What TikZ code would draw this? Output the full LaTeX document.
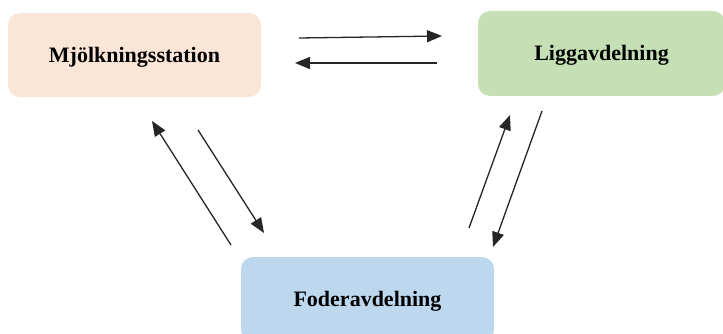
\documentclass[tikz,border=0pt]{standalone}
\usepackage{fontspec}
\setmainfont{Liberation Serif}
\usetikzlibrary{arrows.meta}
\definecolor{peach}{HTML}{FBE5D6}
\definecolor{lgreen}{HTML}{C5E0B4}
\definecolor{lblue}{HTML}{BDD7EE}
\tikzset{
  box/.style={rectangle, rounded corners=12pt, draw=none, inner sep=0pt,
    text height=20pt, text depth=5pt,
    font=\fontsize{22}{26}\selectfont\bfseries},
  conn/.style={line width=1.3pt, draw=black!85, -{Triangle[length=15pt,width=12pt]}}
}
\begin{document}
\begin{tikzpicture}[x=1pt,y=-1pt]
\useasboundingbox (0,0) rectangle (723,334);
\begin{scope}
\clip (0,0) rectangle (723,334);
\node[box, fill=peach, minimum width=253pt, minimum height=84pt] (m) at (134.5,55) {Mjölkningsstation};
\node[box, fill=lgreen, minimum width=247pt, minimum height=85pt] (l) at (601.5,53.5) {Liggavdelning};
\node[box, fill=lblue, minimum width=253pt, minimum height=84pt] (f) at (367.5,299) {Foderavdelning};
\end{scope}
\coordinate (a1s) at (299,38);
\coordinate (a1e) at (442,36);
\coordinate (a2s) at (437,63);
\coordinate (a2e) at (295,63);
\coordinate (a3s) at (231,245);
\coordinate (a3e) at (152,121);
\coordinate (a4s) at (198,130);
\coordinate (a4e) at (264,233);
\coordinate (a5s) at (469,228);
\coordinate (a5e) at (510,115);
\coordinate (a6s) at (542,111);
\coordinate (a6e) at (493,247);
\draw[conn] (a1s) -- (a1e);
\draw[conn] (a2s) -- (a2e);
\draw[conn] (a3s) -- (a3e);
\draw[conn] (a4s) -- (a4e);
\draw[conn] (a5s) -- (a5e);
\draw[conn] (a6s) -- (a6e);
\end{tikzpicture}
\end{document}
